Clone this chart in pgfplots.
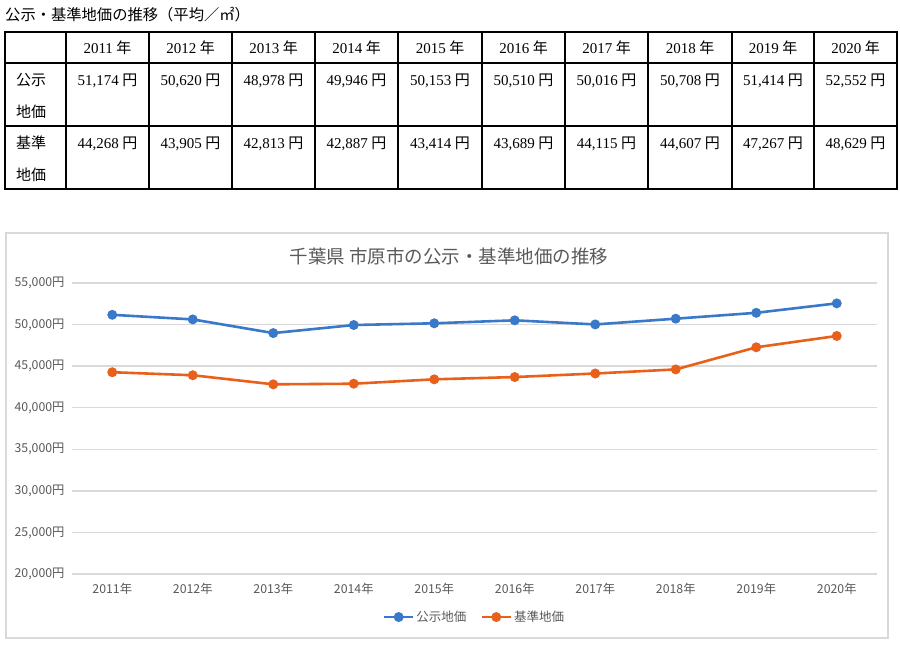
\documentclass[border=0pt]{standalone}
\usepackage{pgfplots}
\pgfplotsset{compat=1.18}
\usepackage{fontspec}
\setmainfont{Noto Sans CJK JP}
\newfontfamily\jp{Noto Sans CJK JP}
\newfontfamily\ser{Liberation Serif}
\definecolor{cblue}{HTML}{3A78C9}
\definecolor{corange}{HTML}{E9601A}
\definecolor{gridc}{HTML}{D9D9D9}
\definecolor{txt}{HTML}{595959}
\newcommand{\yen}[1]{{\ser #1}\hspace{3.5pt}{\jp 円}}
\newcommand{\nen}[1]{{\ser #1}\hspace{3.5pt}{\jp 年}}
\begin{document}
\begin{tikzpicture}[x=1pt,y=1pt]
\useasboundingbox (0,0) rectangle (900,651);
% heading
\node[anchor=base west, font=\jp\fontsize{15.3}{18}\selectfont, inner sep=0] at (5,630) {公示・基準地価の推移（平均／㎡）};
% table
\draw[line width=1.3pt] (5,619) rectangle (897,462);
\draw[line width=1.3pt] (5,588) -- (897,588);
\draw[line width=1.3pt] (5,525) -- (897,525);
\foreach \xx in {66,149,232,315,398,482,565,648,732,814}{\draw[line width=1.3pt] (\xx,619) -- (\xx,462);}
\tikzset{tc/.style={anchor=base, inner sep=0, font=\fontsize{15}{18}\selectfont}}
\node[tc] at (107.5,597) {\nen{2011}};
\node[tc] at (190.5,597) {\nen{2012}};
\node[tc] at (273.5,597) {\nen{2013}};
\node[tc] at (356.5,597) {\nen{2014}};
\node[tc] at (440,597) {\nen{2015}};
\node[tc] at (523.5,597) {\nen{2016}};
\node[tc] at (606.5,597) {\nen{2017}};
\node[tc] at (690,597) {\nen{2018}};
\node[tc] at (773,597) {\nen{2019}};
\node[tc] at (855.5,597) {\nen{2020}};
\node[tc] at (107.5,565) {\yen{51,174}};
\node[tc] at (190.5,565) {\yen{50,620}};
\node[tc] at (273.5,565) {\yen{48,978}};
\node[tc] at (356.5,565) {\yen{49,946}};
\node[tc] at (440,565) {\yen{50,153}};
\node[tc] at (523.5,565) {\yen{50,510}};
\node[tc] at (606.5,565) {\yen{50,016}};
\node[tc] at (690,565) {\yen{50,708}};
\node[tc] at (773,565) {\yen{51,414}};
\node[tc] at (855.5,565) {\yen{52,552}};
\node[tc] at (107.5,502) {\yen{44,268}};
\node[tc] at (190.5,502) {\yen{43,905}};
\node[tc] at (273.5,502) {\yen{42,813}};
\node[tc] at (356.5,502) {\yen{42,887}};
\node[tc] at (440,502) {\yen{43,414}};
\node[tc] at (523.5,502) {\yen{43,689}};
\node[tc] at (606.5,502) {\yen{44,115}};
\node[tc] at (690,502) {\yen{44,607}};
\node[tc] at (773,502) {\yen{47,267}};
\node[tc] at (855.5,502) {\yen{48,629}};
\node[tc, anchor=base west] at (16,565) {\jp 公示};
\node[tc, anchor=base west] at (16,533) {\jp 地価};
\node[tc, anchor=base west] at (16,502) {\jp 基準};
\node[tc, anchor=base west] at (16,470) {\jp 地価};
% chart frame
\draw[gridc, line width=1.3pt] (6,418) rectangle (888,13);
\node[txt, font=\fontsize{18.5}{21}\selectfont] at (449,395) {千葉県 市原市の公示・基準地価の推移};
\begin{axis}[
  at={(72pt,77pt)}, anchor=south west,
  width=805pt, height=291pt, scale only axis,
  xmin=-0.5, xmax=9.5, ymin=20000, ymax=55000,
  ytick={20000,25000,30000,35000,40000,45000,50000,55000},
  scaled y ticks=false,
  xtick={0,...,9},
  xticklabels={2011年,2012年,2013年,2014年,2015年,2016年,2017年,2018年,2019年,2020年},
  axis line style={draw=none},
  major tick length=0pt,
  ymajorgrids, grid style={gridc, line width=1.3pt},
  yticklabel={\pgfmathprintnumber{\tick}円},
  /pgf/number format/.cd, 1000 sep={,}, fixed, assume math mode=true, /pgfplots/.cd,
  ticklabel style={txt, font=\fontsize{12.3}{14}\selectfont},
  yticklabel style={xshift=-4pt},
  xticklabel style={yshift=-6pt},
  clip=false,
  legend style={at={(axis description cs:0.5,-0.148)}, anchor=center, draw=none, fill=none,
    legend columns=2, font=\fontsize{12.5}{14}\selectfont, text=txt,
    /tikz/every even column/.append style={column sep=12pt}},
  legend image code/.code={\draw[mark repeat=2,mark phase=2,#1] plot coordinates {(0pt,0pt) (14.5pt,0pt) (29pt,0pt)};},
]
\addplot[cblue, line width=2.6pt, mark=*, mark size=3.6pt, mark options={solid,fill=cblue}]
  coordinates {(0,51174) (1,50620) (2,48978) (3,49946) (4,50153) (5,50510) (6,50016) (7,50708) (8,51414) (9,52552)};
\addlegendentry{公示地価}
\addplot[corange, line width=2.6pt, mark=*, mark size=3.6pt, mark options={solid,fill=corange}]
  coordinates {(0,44268) (1,43905) (2,42813) (3,42887) (4,43414) (5,43689) (6,44115) (7,44607) (8,47267) (9,48629)};
\addlegendentry{基準地価}
\end{axis}
\end{tikzpicture}
\end{document}
